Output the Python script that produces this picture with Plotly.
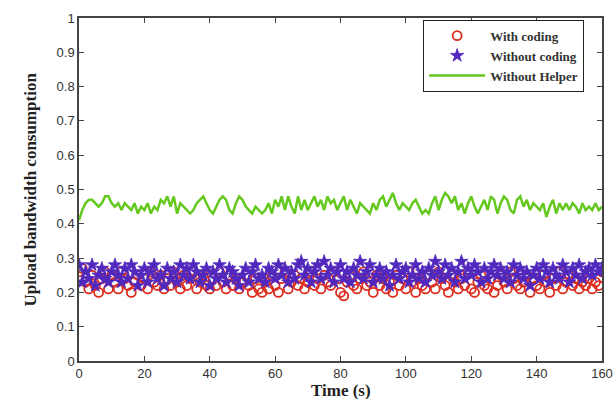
import plotly.graph_objects as go

time_s = list(range(0, 161))

with_coding = [
    0.26,0.27,0.23,0.21,0.25,0.22,0.20,0.24,0.26,0.21,
    0.25,0.23,0.21,0.26,0.24,0.22,0.20,0.23,0.25,0.22,
    0.24,0.21,0.26,0.23,0.22,0.25,0.21,0.24,0.22,0.26,
    0.23,0.21,0.25,0.22,0.24,0.26,0.21,0.23,0.25,0.22,
    0.21,0.24,0.22,0.26,0.23,0.21,0.25,0.22,0.24,0.21,
    0.23,0.25,0.22,0.20,0.24,0.21,0.20,0.23,0.21,0.25,
    0.22,0.20,0.24,0.26,0.21,0.23,0.25,0.22,0.24,0.21,
    0.23,0.26,0.22,0.24,0.21,0.25,0.23,0.22,0.26,0.24,
    0.20,0.19,0.23,0.25,0.22,0.21,0.24,0.26,0.22,0.23,
    0.20,0.25,0.22,0.24,0.21,0.23,0.20,0.25,0.22,0.24,
    0.21,0.26,0.23,0.20,0.24,0.22,0.21,0.25,0.23,0.21,
    0.26,0.24,0.22,0.20,0.25,0.23,0.21,0.24,0.22,0.26,
    0.21,0.20,0.23,0.25,0.22,0.21,0.24,0.20,0.22,0.25,
    0.23,0.21,0.26,0.24,0.22,0.21,0.23,0.25,0.20,0.24,
    0.22,0.21,0.25,0.23,0.20,0.24,0.22,0.26,0.21,0.23,
    0.25,0.22,0.24,0.21,0.23,0.22,0.24,0.21,0.23,0.22,
    0.26,
]

without_coding = [
    0.28,0.23,0.26,0.24,0.28,0.22,0.25,0.27,0.24,0.23,
    0.26,0.28,0.25,0.23,0.27,0.24,0.28,0.26,0.22,0.25,
    0.27,0.23,0.26,0.28,0.24,0.25,0.22,0.27,0.24,0.26,
    0.23,0.28,0.25,0.27,0.24,0.28,0.26,0.23,0.25,0.27,
    0.22,0.26,0.24,0.28,0.25,0.23,0.27,0.26,0.24,0.22,
    0.25,0.27,0.23,0.26,0.28,0.24,0.25,0.23,0.27,0.26,
    0.24,0.28,0.25,0.27,0.23,0.26,0.24,0.28,0.29,0.25,
    0.27,0.23,0.26,0.28,0.24,0.29,0.25,0.27,0.23,0.26,
    0.28,0.24,0.26,0.23,0.27,0.25,0.29,0.24,0.26,0.28,
    0.23,0.25,0.27,0.24,0.26,0.22,0.25,0.28,0.24,0.26,
    0.27,0.23,0.25,0.28,0.24,0.26,0.23,0.27,0.25,0.29,
    0.26,0.24,0.28,0.25,0.27,0.23,0.26,0.29,0.24,0.27,
    0.25,0.28,0.26,0.23,0.27,0.24,0.26,0.28,0.25,0.27,
    0.24,0.26,0.23,0.28,0.25,0.27,0.24,0.26,0.22,0.25,
    0.27,0.24,0.28,0.26,0.23,0.27,0.25,0.24,0.28,0.26,
    0.23,0.27,0.25,0.28,0.24,0.26,0.27,0.25,0.28,0.26,
    0.27,
]

without_helper = [
    0.41,0.44,0.46,0.47,0.47,0.46,0.45,0.46,0.48,0.48,0.46,
    0.45,0.46,0.44,0.46,0.45,0.44,0.46,0.43,0.45,0.44,
    0.46,0.43,0.45,0.44,0.47,0.46,0.48,0.45,0.48,0.43,
    0.46,0.45,0.44,0.43,0.44,0.46,0.47,0.48,0.46,0.44,
    0.43,0.45,0.47,0.48,0.47,0.44,0.43,0.46,0.48,0.47,
    0.45,0.44,0.43,0.45,0.44,0.43,0.44,0.46,0.43,0.47,
    0.45,0.48,0.44,0.48,0.45,0.43,0.48,0.44,0.47,0.44,
    0.46,0.48,0.45,0.47,0.44,0.48,0.46,0.47,0.44,0.46,
    0.48,0.44,0.47,0.45,0.43,0.46,0.45,0.44,0.43,0.46,
    0.44,0.47,0.48,0.45,0.47,0.49,0.46,0.44,0.46,0.45,
    0.44,0.46,0.47,0.45,0.43,0.44,0.43,0.46,0.48,0.44,
    0.47,0.49,0.48,0.46,0.48,0.44,0.46,0.43,0.46,0.48,
    0.45,0.43,0.45,0.47,0.44,0.48,0.47,0.43,0.46,0.48,
    0.47,0.44,0.43,0.47,0.48,0.45,0.47,0.44,0.46,0.45,
    0.44,0.46,0.42,0.45,0.47,0.43,0.46,0.44,0.46,0.44,
    0.46,0.45,0.43,0.46,0.44,0.45,0.44,0.46,0.44,0.45,
]

x_ticks = [0, 20, 40, 60, 80, 100, 120, 140, 160]
y_ticks = [0, 0.1, 0.2, 0.3, 0.4, 0.5, 0.6, 0.7, 0.8, 0.9, 1]
y_tick_labels = ["0", "0.1", "0.2", "0.3", "0.4", "0.5", "0.6", "0.7", "0.8", "0.9", "1"]

RED = "rgb(220,45,30)"
BLUE = "rgb(80,40,190)"
GREEN = "rgb(100,200,30)"
SERIF = "Liberation Serif, Times New Roman, serif"

fig = go.Figure()
fig.add_trace(go.Scatter(
    x=time_s, y=with_coding, mode="markers", name="<b>With coding</b>",
    marker=dict(symbol="circle-open", size=9, color=RED, line=dict(width=1.8, color=RED)),
))
fig.add_trace(go.Scatter(
    x=time_s, y=without_coding, mode="markers", name="<b>Without coding</b>",
    marker=dict(symbol="star", size=10, color=BLUE, line=dict(width=0.8, color=BLUE)),
))
fig.add_trace(go.Scatter(
    x=time_s, y=without_helper, mode="lines", name="<b>Without Helper</b>",
    line=dict(color=GREEN, width=2.5),
))

axis_common = dict(
    showgrid=False, zeroline=False, showline=True, linecolor="#444", linewidth=1.5,
    ticks="inside", ticklen=5, tickcolor="#444", mirror="allticks", automargin=False,
    tickfont=dict(family="Liberation Sans, Arial", size=13, color="#333"),
)

fig.update_layout(
    width=614, height=399,
    margin=dict(l=79, r=12, t=18, b=38),
    paper_bgcolor="white", plot_bgcolor="white",
    xaxis=dict(range=[0, 160], tickvals=x_ticks, **axis_common),
    yaxis=dict(range=[0, 1], tickvals=y_ticks, ticktext=y_tick_labels, **axis_common),
    legend=dict(x=0.658, y=0.995, xanchor="left", yanchor="top",
                bgcolor="white", bordercolor="#222", borderwidth=1,
                font=dict(family=SERIF, size=13, color="#333"),
                itemwidth=56, tracegroupgap=0),
    showlegend=True,
    annotations=[
        dict(text="<b>Time (s)</b>", xref="paper", yref="paper", x=0.5, y=0,
             xanchor="center", yanchor="middle", yshift=-29, showarrow=False,
             font=dict(family=SERIF, size=17, color="#222")),
        dict(text="<b>Upload bandwidth consumption</b>", xref="paper", yref="paper",
             x=0, y=0.5, xanchor="center", yanchor="middle", xshift=-49, textangle=-90,
             showarrow=False, font=dict(family=SERIF, size=17, color="#222")),
    ],
)

# Remove the page's default body margin so the 614x399 figure fills the window exactly.
fig.write_html(
    "out.html",
    config={"displayModeBar": False},
    post_script="document.body.style.margin='0';document.body.style.overflow='hidden';",
)
